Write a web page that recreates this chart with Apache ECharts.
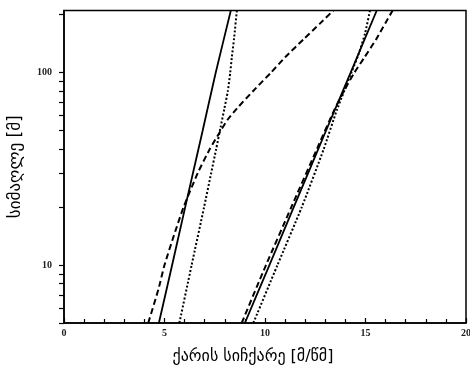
<!DOCTYPE html>
<html><head><meta charset="utf-8">
<script src="https://cdn.jsdelivr.net/npm/echarts@6/dist/echarts.min.js"></script>
<style>html,body{margin:0;padding:0;background:#fff}#c{width:470px;height:366px}</style>
</head><body><div id="c"></div>
<script>
// tick labels / tick values
const xTickLabels = [0, 5, 10, 15, 20];
const yTickLabels = [10, 100];
const yTickValues = [5, 6, 7, 8, 9, 10, 20, 30, 40, 50, 60, 70, 80, 90, 100, 200];

// left group (heights in m, speeds in m/s)
const leftSolidZ = [5, 10, 20, 50, 100, 210];
const leftSolidU = [4.72, 5.38, 6.03, 6.9, 7.55, 8.3];
const leftDashZ = [5, 7.5, 10, 15, 20, 30, 40, 50, 57, 65, 80, 100, 120, 150, 180, 210];
const leftDashU = [4.19, 4.7, 5.0, 5.54, 5.95, 6.65, 7.25, 7.8, 8.15, 8.6, 9.4, 10.3, 11.0, 11.95, 12.74, 13.4];
const leftDotZ = [5, 10, 20, 30, 40, 52, 65, 80, 100, 120, 150, 210];
const leftDotU = [5.74, 6.35, 6.97, 7.32, 7.57, 7.79, 7.98, 8.15, 8.27, 8.35, 8.46, 8.6];

// right group
const rightSolidZ = [5, 10, 20, 50, 100, 210];
const rightSolidU = [9.0, 10.22, 11.43, 13.04, 14.26, 15.56];
const rightDashZ = [5, 10, 20, 40, 64, 80, 100, 120, 150, 180, 210];
const rightDashU = [8.84, 10.05, 11.31, 12.58, 13.45, 13.92, 14.45, 14.95, 15.55, 15.98, 16.35];
const rightDotZ = [5, 10, 20, 40, 64, 100, 124, 160, 210];
const rightDotU = [9.42, 10.62, 11.83, 12.92, 13.58, 14.3, 14.65, 14.98, 15.22];

const xName = 'ქარის სიჩქარე [მ/წმ]';
const yName = 'სიმაღლე [მ]';

function pairs(u, z) { return u.map((v, i) => [v, z[i]]); }

const solid = { color: '#000', width: 1.8, type: 'solid' };
const dashed = { color: '#000', width: 2, type: [6, 3.5] };
const dotted = { color: '#000', width: 2, type: [2, 2] };

function mk(u, z, style) {
  return { type: 'line', data: pairs(u, z), showSymbol: false, smooth: 0.2,
    lineStyle: style, silent: true, animation: false };
}

const chart = echarts.init(document.getElementById('c'), null, { renderer: 'canvas' });
chart.setOption({
  animation: false,
  backgroundColor: '#fff',
  grid: { left: 64, right: 4, top: 10.5, bottom: 43, outerBoundsMode: 'none', containLabel: false,
    show: true, borderColor: '#000', borderWidth: 1.5, backgroundColor: 'transparent' },
  xAxis: {
    type: 'value', min: 0, max: 20, interval: 5,
    axisLine: { show: true, lineStyle: { color: '#000', width: 1.5 } },
    axisTick: { show: true, inside: true, length: 5, lineStyle: { color: '#000', width: 1.2 } },
    minorTick: { show: true, splitNumber: 5, length: 4, lineStyle: { color: '#000', width: 1.2 } },
    splitLine: { show: false },
    axisLabel: { customValues: xTickLabels, margin: 5, fontFamily: 'Liberation Serif', fontWeight: 'bold', fontSize: 10, color: '#222' },
    name: xName, nameLocation: 'middle', nameGap: 26,
    nameTextStyle: { fontFamily: 'DejaVu Sans', fontSize: 16, color: '#000', padding: [0, 24, 0, 0] }
  },
  yAxis: {
    type: 'log', logBase: 10, min: 5, max: 210,
    axisLine: { show: true, lineStyle: { color: '#000', width: 1.5 } },
    axisTick: { show: true, inside: false, length: 5, customValues: yTickValues, lineStyle: { color: '#000', width: 1.2 } },
    minorTick: { show: false },
    splitLine: { show: false },
    axisLabel: { customValues: yTickLabels, margin: 12, fontFamily: 'Liberation Serif', fontWeight: 'bold', fontSize: 10, color: '#222' },
    name: yName, nameLocation: 'middle', nameGap: 40,
    nameTextStyle: { fontFamily: 'DejaVu Sans', fontSize: 17, color: '#000' }
  },
  series: [
    mk(leftSolidU, leftSolidZ, solid),
    mk(leftDashU, leftDashZ, dashed),
    mk(leftDotU, leftDotZ, dotted),
    mk(rightSolidU, rightSolidZ, solid),
    mk(rightDashU, rightDashZ, dashed),
    mk(rightDotU, rightDotZ, dotted)
  ]
});
</script></body></html>
